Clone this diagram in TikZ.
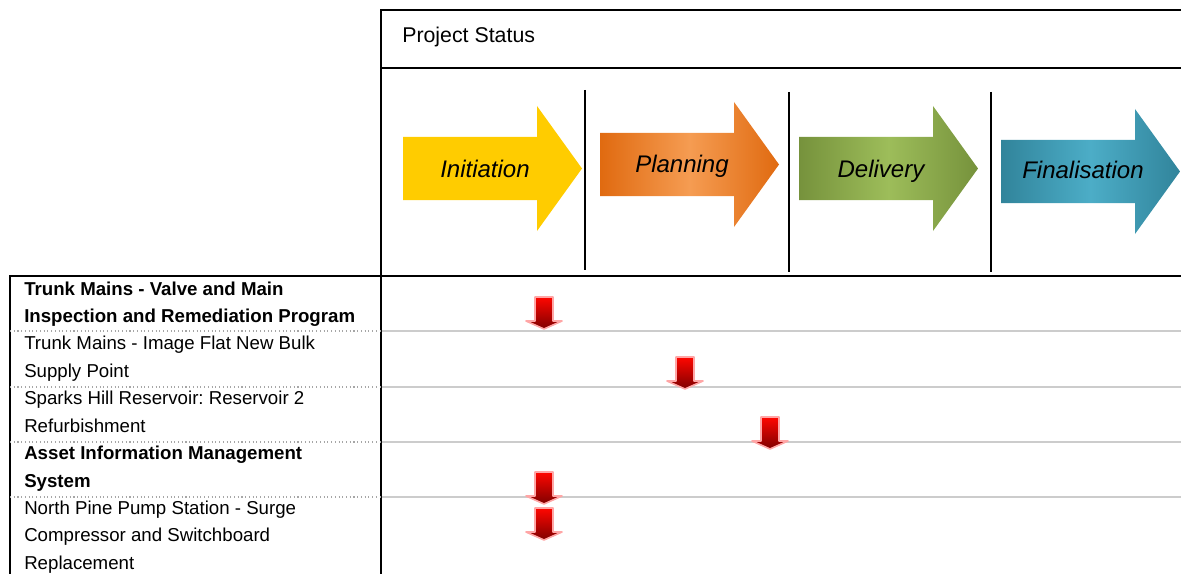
\documentclass[tikz,border=0pt]{standalone}
\usepackage{fontspec}
\setmainfont{Liberation Sans}
\usetikzlibrary{positioning}
\frenchspacing
\definecolor{initgold}{HTML}{FFCC00}
\definecolor{plandark}{HTML}{E06A10}
\definecolor{planlight}{HTML}{F59C52}
\definecolor{deldark}{HTML}{76923C}
\definecolor{dellight}{HTML}{9DBD5A}
\definecolor{findark}{HTML}{31849B}
\definecolor{finlight}{HTML}{4CADC7}
\definecolor{rowline}{HTML}{CCCCCC}
\tikzset{
rule/.style={line width=1.5pt}, % frame lines of the table
heavy/.style={line width=1.9pt}, % line under the status header
divider/.style={line width=1.2pt}, % splits between the phases
rowsep/.style={rowline, line width=1.2pt}, % row lines on the right
rowdots/.style={gray!70, line width=0.8pt, dotted}, % row lines in the name column
rowtext/.style={anchor=base west, inner sep=0pt, align=left, font=\fontsize{14}{20.4}\selectfont}, % base = last line
phaselabel/.style={anchor=base, inner sep=0pt, font=\fontsize{18}{22}\selectfont\itshape},
statusflag/.style={top color=red!95!orange, bottom color=red!50!black, draw=red!35, line width=1.2pt, line join=round},
}
% big phase arrow: tail x, middle y, fill
\newcommand{\phasearrow}[3]{%
\path[#3] (#1,#2-31.5) -- ++(134,0) -- ++(0,-31) -- (#1+179,#2)
  -- (#1+134,#2+62.5) -- ++(0,-31) -- (#1,#2+31.5) -- cycle;}
% small down arrow: centre x, top y
\newcommand{\downflag}[2]{%
\path[statusflag] (#1-9,#2) -- (#1+9,#2) -- (#1+9,#2+24) -- (#1+18,#2+24)
  -- (#1,#2+32) -- (#1-18,#2+24) -- (#1-9,#2+24) -- cycle;}

\begin{document}
\begin{tikzpicture}[x=0.75pt, y=-0.75pt]
\useasboundingbox (0,0) rectangle (1181,574);

% header box
\draw[rule] (1181,10) -- (381,10) -- (381,574);
\draw[rule] (381,68) -- (1181,68);
\node[anchor=base west, inner sep=0pt, font=\fontsize{16}{19}\selectfont] (status) at (402,43) {Project Status};

% phases
\phasearrow{403}{168.5}{fill=initgold}
\phasearrow{600}{164.5}{left color=plandark, right color=plandark, middle color=planlight}
\phasearrow{799}{168.5}{left color=deldark, right color=deldark, middle color=dellight}
\phasearrow{1001}{171.5}{left color=findark, right color=findark, middle color=finlight}
\node[phaselabel] (init) at (485,177) {Initiation};
\node[phaselabel] (plan) at (682,173) {Planning};
\node[phaselabel] (deliv) at (881,177) {Delivery};
\node[phaselabel] (final) at (1083,179) {Finalisation};

\draw[divider] (585,90) -- (585,270);
\draw[divider] (789,92) -- (789,272);
\draw[divider] (991,92) -- (991,272);

% project rows
\draw[heavy] (10,574) -- (10,276) -- (1181,276);
\draw[rule] (381,276) -- (381,574);
\foreach \y in {331,387,442,497}{
  \draw[rowdots] (10,\y) -- (380,\y);
  \draw[rowsep] (382,\y) -- (1181,\y);
}
\node[rowtext] (row1) at (24,322.5) {\textbf{Trunk Mains - Valve and Main}\\\textbf{Inspection and Remediation Program}};
\node[rowtext] (row2) at (24,377) {Trunk Mains - Image Flat New Bulk\\Supply Point};
\node[rowtext] (row3) at (24,432) {Sparks Hill Reservoir: Reservoir 2\\Refurbishment};
\node[rowtext] (row4) at (24,487) {\textbf{Asset Information Management}\\\textbf{System}};
\node[rowtext] (row5) at (24,569) {North Pine Pump Station - Surge\\Compressor and Switchboard\\Replacement};

% where each project stands
\downflag{544}{297}
\downflag{685}{357}
\downflag{770}{417}
\downflag{544}{472}
\downflag{544}{508}
\end{tikzpicture}
\end{document}
